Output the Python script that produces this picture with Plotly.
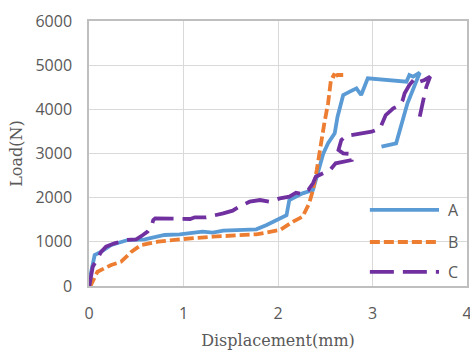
import plotly.graph_objects as go

# Series A (blue, solid)
a_x = [0, 0.005, 0.06, 0.13, 0.235, 0.41, 0.59, 0.80, 0.96, 1.20, 1.31, 1.42, 1.77, 1.88,
       2.09, 2.12, 2.26, 2.37, 2.41, 2.48, 2.53, 2.60, 2.63, 2.69, 2.76, 2.83, 2.88, 2.95,
       3.36, 3.39, 3.43, 3.50, 3.37, 3.25, 3.095]
a_y = [0, 136, 702, 777, 928, 1041, 1057, 1155, 1170, 1230, 1207, 1252, 1283, 1381,
       1600, 1947, 2098, 2173, 2475, 3004, 3231, 3457, 3833, 4324, 4400, 4475, 4324, 4702,
       4626, 4777, 4740, 4830, 4136, 3231, 3154]

# Series B (orange, dashed)
b_x = [0, 0.02, 0.09, 0.235, 0.34, 0.45, 0.55, 0.73, 0.96, 1.31, 1.77, 2.02, 2.16, 2.26,
       2.33, 2.37, 2.41, 2.44, 2.49, 2.53, 2.56, 2.60, 2.58, 2.63, 2.69]
b_y = [0, 20, 324, 475, 551, 777, 928, 1003, 1057, 1117, 1170, 1268, 1456, 1569,
       1872, 2173, 2626, 3079, 3683, 4136, 4664, 4815, 4700, 4777, 4777]

# Series C (purple, long dash)
c_x = [0, 0.005, 0.04, 0.076, 0.13, 0.18, 0.27, 0.39, 0.50, 0.57, 0.62, 0.66, 0.68, 0.70,
       0.96, 1.07, 1.12, 1.24, 1.42, 1.52, 1.59, 1.70, 1.81, 1.91, 2.02, 2.12, 2.19, 2.25,
       2.32, 2.37, 2.40, 2.48, 2.55, 2.61, 2.78, 2.78, 2.69, 2.64, 2.67, 2.72, 2.85, 2.99,
       3.08, 3.10, 3.14, 3.22, 3.29, 3.32, 3.34, 3.39, 3.45, 3.50, 3.55, 3.61, 3.57, 3.53, 3.50]
c_y = [0, 20, 437, 589, 777, 890, 966, 1041, 1057, 1155, 1230, 1343, 1494, 1532,
       1532, 1517, 1555, 1555, 1645, 1705, 1795, 1909, 1947, 1909, 1985, 2022, 2113, 2080,
       2173, 2325, 2475, 2551, 2626, 2777, 2853, 2989, 3004, 3079, 3305, 3396, 3440, 3493,
       3570, 3683, 3871, 4022, 4098, 4211, 4362, 4550, 4702, 4626, 4664, 4739, 4513, 4136, 3833]

series_names = ["A", "B", "C"]
colors = ["#5B9BD5", "#ED7D31", "#7030A0"]
dashes = ["solid", "10px,4px", "24px,9px"]

x_ticks = [0, 1, 2, 3, 4]
y_ticks = [0, 1000, 2000, 3000, 4000, 5000, 6000]

fig = go.Figure()
for xs, ys, name, col, dsh in zip([a_x, b_x, c_x], [a_y, b_y, c_y], series_names, colors, dashes):
    fig.add_trace(go.Scatter(x=xs, y=ys, mode="lines", name=name,
                             line=dict(color=col, width=3.8, dash=dsh),
                             showlegend=False))

tick_font = dict(family="Open Sans", size=16, color="#595959")
title_font = dict(family="DejaVu Serif", size=16, color="#595959")

fig.update_layout(
    width=470, height=350,
    margin=dict(l=89, r=3, t=21, b=64),
    paper_bgcolor="white", plot_bgcolor="white",
    xaxis=dict(range=[0, 4], tickvals=x_ticks, showgrid=True, gridcolor="#D9D9D9", gridwidth=1,
               showline=True, linecolor="#BFBFBF", linewidth=1.5, mirror=True, automargin=False,
               ticklabeloverflow="allow",
               zeroline=False, tickfont=tick_font, ticks="", ticklabelstandoff=12,
               title=dict(text="Displacement(mm)", font=title_font, standoff=18)),
    yaxis=dict(range=[0, 6000], tickvals=y_ticks, showgrid=True, gridcolor="#D9D9D9", gridwidth=1,
               showline=True, linecolor="#BFBFBF", linewidth=1.5, mirror=True, automargin=False,
               ticklabeloverflow="allow",
               zeroline=False, tickfont=tick_font, ticks="", ticklabelstandoff=12,
               title=dict(text="Load(N)", font=title_font, standoff=9)),
)

# Manual legend (paper coordinates) matching the long legend samples
shapes = [dict(type="rect", xref="paper", yref="paper", x0=0.738, x1=0.994, y0=0.006, y1=0.336,
               fillcolor="white", line=dict(width=0), layer="between")]
leg_y = [0.287, 0.166, 0.053]
annotations = []
for name, col, dsh, yy in zip(series_names, colors, dashes, leg_y):
    shapes.append(dict(type="line", xref="paper", yref="paper", x0=0.743, x1=0.926, y0=yy, y1=yy,
                       line=dict(color=col, width=3.8, dash=dsh), layer="above"))
    annotations.append(dict(xref="paper", yref="paper", x=0.945, y=yy, text=name, showarrow=False,
                            xanchor="left", yanchor="middle", font=tick_font))
fig.update_layout(shapes=shapes, annotations=annotations)

fig.write_html("out.html")
